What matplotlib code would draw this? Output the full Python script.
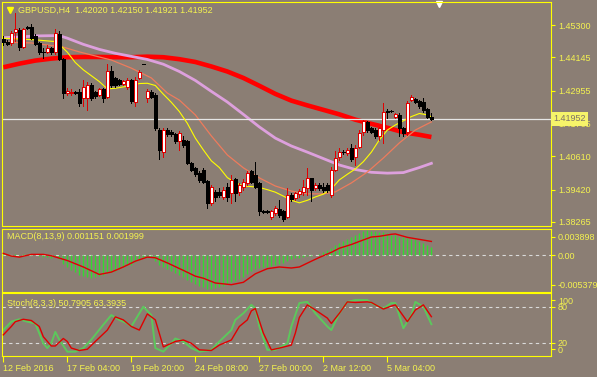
import numpy as np
import matplotlib
matplotlib.use("Agg")
import matplotlib.pyplot as plt
from matplotlib.transforms import blended_transform_factory

plt.rcParams["font.family"] = ["Liberation Sans", "DejaVu Sans"]

# ---- GBPUSD H4 candles (O, H, L, C) ----
opens = [1.4480, 1.4471, 1.4465, 1.4504, 1.4512, 1.4453, 1.4522, 1.4524, 1.4492, 1.4465,
         1.4435, 1.4433, 1.4449, 1.4433, 1.4497, 1.4409, 1.4287, 1.4287, 1.4292, 1.4290,
         1.4268, 1.4268, 1.4316, 1.4290, 1.4280, 1.4302, 1.4274, 1.4364, 1.4340, 1.4332,
         1.4318, 1.4310, 1.4332, 1.4254, 1.4342, 1.4391, 1.4268, 1.4292, 1.4280, 1.4155,
         1.4078, 1.4155, 1.4149, 1.4140, 1.4114, 1.4120, 1.4114, 1.4036, 1.4019, 1.4001,
         1.4013, 1.3973, 1.3894, 1.3935, 1.3935, 1.3917, 1.3953, 1.3929, 1.3981, 1.3933,
         1.3953, 1.3965, 1.4007, 1.3995, 1.3965, 1.3866, 1.3865, 1.3846, 1.3858, 1.3873,
         1.3864, 1.3846, 1.3923, 1.3911, 1.3926, 1.3935, 1.3947, 1.3983, 1.3947, 1.3957,
         1.3953, 1.3957, 1.3923, 1.4013, 1.4057, 1.4078, 1.4072, 1.4090, 1.4057, 1.4096,
         1.4147, 1.4185, 1.4161, 1.4155, 1.4135, 1.4155, 1.4223, 1.4224, 1.4203, 1.4209,
         1.4161, 1.4147, 1.4262, 1.4265, 1.4257, 1.4254, 1.4230, 1.42020]
highs = [1.4489, 1.4477, 1.4509, 1.4573, 1.4518, 1.4521, 1.4527, 1.4533, 1.4497, 1.4471,
         1.4447, 1.4457, 1.4453, 1.4516, 1.4509, 1.4411, 1.4306, 1.4302, 1.4295, 1.4302,
         1.4334, 1.4328, 1.4322, 1.4295, 1.4306, 1.4306, 1.4390, 1.4385, 1.4346, 1.4337,
         1.4335, 1.4342, 1.4337, 1.4346, 1.4370, 1.4392, 1.4302, 1.4298, 1.4286, 1.4161,
         1.4161, 1.4161, 1.4155, 1.4143, 1.4152, 1.4132, 1.4120, 1.4042, 1.4024, 1.4007,
         1.4019, 1.3977, 1.3959, 1.3941, 1.3947, 1.3953, 1.3965, 1.3995, 1.3985, 1.3965,
         1.3981, 1.4009, 1.4013, 1.4042, 1.3971, 1.3870, 1.3868, 1.3870, 1.3882, 1.3906,
         1.3870, 1.3947, 1.3929, 1.3933, 1.3945, 1.3977, 1.4019, 1.3985, 1.3965, 1.3965,
         1.3965, 1.3965, 1.4024, 1.4080, 1.4090, 1.4084, 1.4090, 1.4104, 1.4100, 1.4155,
         1.4191, 1.4188, 1.4167, 1.4161, 1.4167, 1.4251, 1.4230, 1.4226, 1.4215, 1.4215,
         1.4167, 1.4257, 1.4280, 1.4268, 1.4262, 1.4271, 1.4233, 1.42150]
lows = [1.4459, 1.4457, 1.4459, 1.4473, 1.4441, 1.4449, 1.4516, 1.4480, 1.4457, 1.4426,
        1.4411, 1.4429, 1.4428, 1.4426, 1.4405, 1.4271, 1.4280, 1.4280, 1.4283, 1.4239,
        1.4239, 1.4227, 1.4263, 1.4271, 1.4278, 1.4254, 1.4271, 1.4307, 1.4307, 1.4314,
        1.4314, 1.4302, 1.4251, 1.4242, 1.4337, 1.4389, 1.4254, 1.4268, 1.4155, 1.4052,
        1.4060, 1.4135, 1.4132, 1.4108, 1.4084, 1.4096, 1.4033, 1.4007, 1.3989, 1.3971,
        1.3965, 1.3876, 1.3888, 1.3902, 1.3914, 1.3909, 1.3900, 1.3894, 1.3900, 1.3923,
        1.3941, 1.3959, 1.3965, 1.3947, 1.3852, 1.3858, 1.3859, 1.3838, 1.3852, 1.3846,
        1.3830, 1.3840, 1.3900, 1.3906, 1.3917, 1.3923, 1.3923, 1.3900, 1.3941, 1.3941,
        1.3935, 1.3935, 1.3914, 1.4007, 1.4048, 1.4069, 1.4066, 1.4045, 1.4030, 1.4090,
        1.4138, 1.4149, 1.4143, 1.4128, 1.4120, 1.4108, 1.4197, 1.4221, 1.4197, 1.4132,
        1.4135, 1.4138, 1.4257, 1.4251, 1.4235, 1.4221, 1.4197, 1.41921]
closes = [1.4468, 1.4461, 1.4501, 1.4516, 1.4453, 1.4516, 1.4520, 1.4485, 1.4461, 1.4433,
          1.4433, 1.4449, 1.4433, 1.4501, 1.4409, 1.4286, 1.4295, 1.4292, 1.4286, 1.4251,
          1.4310, 1.4316, 1.4268, 1.4277, 1.4302, 1.4268, 1.4364, 1.4314, 1.4314, 1.4321,
          1.4330, 1.4334, 1.4257, 1.4334, 1.4361, 1.4390, 1.4295, 1.4274, 1.4161, 1.4084,
          1.4155, 1.4140, 1.4140, 1.4116, 1.4143, 1.4102, 1.4036, 1.4013, 1.3997, 1.3977,
          1.3971, 1.3894, 1.3953, 1.3917, 1.3923, 1.3941, 1.3917, 1.3977, 1.3929, 1.3959,
          1.3971, 1.4001, 1.3971, 1.3953, 1.3864, 1.3863, 1.3863, 1.3864, 1.3876, 1.3852,
          1.3838, 1.3923, 1.3909, 1.3929, 1.3938, 1.3953, 1.3983, 1.3941, 1.3957, 1.3947,
          1.3941, 1.3941, 1.4013, 1.4054, 1.4078, 1.4076, 1.4084, 1.4052, 1.4092, 1.4143,
          1.4188, 1.4155, 1.4149, 1.4135, 1.4161, 1.4221, 1.4221, 1.4222, 1.4211, 1.4161,
          1.4143, 1.4251, 1.4274, 1.4254, 1.4242, 1.4227, 1.4203, 1.41952]

# ---- moving averages (bar index, price) ----
ma_red_idx = [0, 4, 8, 12, 16, 20, 24, 28, 32, 36, 40, 44, 48, 52, 56, 60, 64, 68,
              72, 76, 80, 84, 88, 92, 96, 100, 104, 107]
ma_red = [1.4379, 1.4392, 1.4403, 1.4410, 1.4415, 1.4416, 1.4416, 1.4415, 1.4415, 1.4417,
          1.4415, 1.4408, 1.4398, 1.4382, 1.4364, 1.4341, 1.4313, 1.4284, 1.4260, 1.4243,
          1.4227, 1.4211, 1.4192, 1.4177, 1.4163, 1.4147, 1.4138, 1.4130]

ma_pink_idx = [0, 4, 8, 12, 14, 16, 20, 24, 28, 32, 36, 40, 44, 48, 52, 56, 60, 64, 68,
               72, 76, 80, 84, 88, 92, 96, 100, 104, 107]
ma_pink = [1.4485, 1.4487, 1.4491, 1.4492, 1.4492, 1.4483, 1.4461, 1.4443, 1.4429, 1.4418,
           1.4407, 1.4390, 1.4364, 1.4332, 1.4293, 1.4255, 1.4211, 1.4166, 1.4126, 1.4098,
           1.4076, 1.4053, 1.4030, 1.4014, 1.4004, 1.4001, 1.4003, 1.4021, 1.4036]

ma_orange_idx = [0, 7, 15, 19, 27, 32, 37, 41, 44, 48, 52, 56, 60, 64, 68, 72, 76, 80,
                 83, 87, 91, 95, 99, 103, 107]
ma_orange = [1.4469, 1.4466, 1.4451, 1.4434, 1.4405, 1.4376, 1.4341, 1.4287, 1.4262, 1.4209,
             1.4134, 1.4066, 1.4020, 1.3984, 1.3955, 1.3937, 1.3927, 1.3927, 1.3934, 1.3966,
             1.4005, 1.4055, 1.4109, 1.4155, 1.4184]

ma_yellow_idx = [0, 4, 8, 12, 13, 14, 16, 18, 20, 24, 26, 28, 32, 34, 36, 38, 40, 42, 44,
                 46, 48, 50, 52, 54, 56, 58, 60, 62, 64, 66, 68, 70, 72, 74, 76, 78, 80,
                 82, 84, 86, 88, 90, 92, 94, 96, 98, 100, 102, 104, 106, 107]
ma_yellow = [1.4483, 1.4480, 1.4477, 1.4472, 1.4471, 1.4461, 1.4433, 1.4396, 1.4370, 1.4328,
             1.4302, 1.4304, 1.4314, 1.4321, 1.4322, 1.4314, 1.4283, 1.4254, 1.4221, 1.4179,
             1.4126, 1.4084, 1.4045, 1.4021, 1.3985, 1.3967, 1.3955, 1.3953, 1.3950, 1.3942,
             1.3933, 1.3919, 1.3904, 1.3895, 1.3904, 1.3916, 1.3926, 1.3945, 1.3977, 1.3997,
             1.4016, 1.4042, 1.4076, 1.4120, 1.4155, 1.4173, 1.4188, 1.4203, 1.4214, 1.4209,
             1.4202]

# ---- MACD(8,13,9) ----
macd_hist = [0.0002, 0.0001, -0.0001, 0.0001, -0.0001, 0.0001, 0.0002, 0.0001, 0.0000, -0.0002,
             -0.0003, -0.0003, -0.0004, -0.0002, -0.0006, -0.0013, -0.0018, -0.0022, -0.0025, -0.0030,
             -0.0031, -0.0032, -0.0033, -0.0032, -0.0031, -0.0030, -0.0026, -0.0025, -0.0023, -0.0021,
             -0.0018, -0.0015, -0.0014, -0.0010, -0.0007, -0.0004, -0.0003, -0.0003, -0.0008, -0.0015,
             -0.0017, -0.0021, -0.0024, -0.0027, -0.0029, -0.0032, -0.0036, -0.0039, -0.0042, -0.0045,
             -0.0047, -0.0050, -0.0050, -0.0049, -0.0047, -0.0045, -0.0043, -0.0040, -0.0038, -0.0035,
             -0.0032, -0.0028, -0.0024, -0.0021, -0.0019, -0.0018, -0.0017, -0.0016, -0.0014, -0.0013,
             -0.0011, -0.0008, -0.0006, -0.0005, -0.0004, -0.0003, -0.0001, -0.0001, 0.0000, 0.0002,
             0.0004, 0.0008, 0.0011, 0.0015, 0.0018, 0.0021, 0.0024, 0.0026, 0.0029, 0.0032,
             0.0035, 0.0037, 0.0036, 0.0035, 0.0034, 0.0034, 0.0032, 0.0030, 0.0029, 0.0027,
             0.0026, 0.0025, 0.0024, 0.0023, 0.0021, 0.0018, 0.0015, 0.001151]
macd_sig_idx = [0, 2, 4, 7, 10, 12, 16, 20, 24, 27, 30, 33, 36, 38, 41, 45, 48, 50, 53, 57,
                60, 63, 66, 69, 72, 74, 77, 79, 82, 84, 87, 89, 92, 94, 97, 98, 101, 103, 106, 107]
macd_sig = [0.00025, -0.00015, -0.0003, 0.0001, 0.0001, -0.0001, -0.0008, -0.00175, -0.00285, -0.0025,
            -0.00175, -0.0009, -0.0003, -0.0004, -0.00115, -0.00225, -0.0031, -0.0034, -0.0041, -0.00435,
            -0.0040, -0.00275, -0.0020, -0.00175, -0.0019, -0.00175, -0.0009, -0.00035, 0.0004, 0.0010,
            0.00155, 0.0020, 0.00265, 0.00275, 0.00305, 0.0031, 0.0026, 0.0024, 0.0021, 0.001999]
macd_max, macd_min = 0.003898, -0.005379

# ---- Stochastic(8,3,3) ----
st_main_idx = [0, 2, 4, 6, 8, 10, 11, 12, 13, 14, 16, 18, 20, 22, 25, 27, 29, 31, 32, 34,
               35, 37, 38, 40, 42, 43, 45, 47, 49, 52, 54, 57, 58, 60, 62, 63, 64, 66, 68, 71,
               72, 74, 76, 78, 81, 82, 84, 86, 88, 91, 92, 95, 97, 98, 100, 102, 103, 105, 107]
st_main = [41, 55, 59, 55, 52, 19, 11, 19, 38, 25, 5, 5, 11, 25, 50, 66, 58, 52, 47, 69,
           80, 66, 11, 5, 19, 27, 22, 11, 5, 8, 22, 41, 58, 69, 83, 77, 47, 8, 8, 19,
           47, 86, 88, 69, 47, 41, 69, 88, 91, 91, 86, 77, 86, 86, 44, 66, 88, 80, 50.7905]
st_sig_idx = [0, 2, 3, 5, 7, 9, 10, 12, 13, 15, 16, 17, 19, 21, 23, 26, 28, 30, 32, 34,
              36, 38, 40, 43, 45, 47, 49, 52, 54, 57, 59, 61, 62, 63, 65, 67, 69, 72, 73, 74,
              76, 78, 81, 82, 84, 86, 88, 91, 92, 95, 97, 98, 101, 103, 105, 107]
st_sig = [33, 47, 55, 59, 57, 47, 30, 14.5, 14.5, 27, 22, 11, 7, 9, 22, 41, 63, 58, 47, 41,
          68, 58, 13, 22, 24.5, 19, 8, 7, 16, 24.5, 47, 58, 73, 77, 36, 8, 11, 16, 36, 62,
          83, 74.5, 61, 52, 69, 88, 87, 88, 87, 76, 81, 83, 55, 74.5, 83, 63.3935]

tick_idx = [0, 16, 32, 48, 64, 80, 96]
tick_labels = ["12 Feb 2016", "17 Feb 04:00", "19 Feb 20:00", "24 Feb 08:00",
               "27 Feb 00:00", "2 Mar 12:00", "5 Mar 04:00"]
price_ticks = [1.45300, 1.44145, 1.42955, 1.41765, 1.40610, 1.39420, 1.38265]

BG = "#8B7E74"
FG = "#F4F250"
BORDER = "#FFFF00"
RED = "#E00000"
GREEN = "#30DC30"
FS = 6.5
PX = 0.72  # one pixel in points at 100 dpi

W, H = 597, 377


def rect(x0, y0, x1, y1):
    return [x0 / W, 1 - y1 / H, (x1 - x0) / W, (y1 - y0) / H]


fig = plt.figure(figsize=(W / 100, H / 100), dpi=100, facecolor=BG)
ax = fig.add_axes(rect(2, 2, 551, 225.5), facecolor=BG)
axm = fig.add_axes(rect(2, 228.5, 551, 291.7), facecolor=BG, sharex=ax)
axs = fig.add_axes(rect(2, 293.3, 551, 355.7), facecolor=BG, sharex=ax)

for a in (ax, axm, axs):
    for sp in a.spines.values():
        sp.set_color(BORDER)
        sp.set_linewidth(0.8)
    a.yaxis.tick_right()
    a.tick_params(axis="y", colors=BORDER, labelcolor=FG, labelsize=FS,
                  direction="out", length=3, width=0.8, pad=2)
    a.tick_params(axis="x", bottom=False, labelbottom=False)

# ---- main price panel ----
o = np.array(opens)
h = np.array(highs)
l = np.array(lows)
c = np.array(closes)
x = np.arange(len(o))
up = c >= o
dn = ~up

ax.plot(ma_red_idx, ma_red, color="#FF0000", lw=3.3, solid_capstyle="butt", zorder=2)
ax.plot(ma_pink_idx, ma_pink, color="#DDA0DD", lw=2.0, zorder=2)
ax.plot(ma_orange_idx, ma_orange, color="#EE7B5C", lw=0.9, zorder=2)
ax.plot(ma_yellow_idx, ma_yellow, color="#FFFF00", lw=0.8, zorder=3)
ax.axhline(closes[-1], color="#E6E6E6", lw=0.9, zorder=2.5)

ax.vlines(x[up], l[up], h[up], color=RED, lw=PX, zorder=5, antialiased=False)
ax.vlines(x[dn], l[dn], h[dn], color="black", lw=PX, zorder=5, antialiased=False)
body_lo = np.minimum(o, c)
body_h = np.abs(c - o)
ax.bar(x[up], body_h[up], bottom=body_lo[up], width=0.6, color="white",
       edgecolor=RED, linewidth=PX, zorder=6, antialiased=False)
ax.bar(x[dn], body_h[dn], bottom=body_lo[dn], width=0.6, color="black",
       edgecolor="black", linewidth=PX, zorder=6, antialiased=False)

ax.set_xlim(-0.325, 136.9)
ax.set_ylim(1.38140, 1.46122)
ax.set_yticks(price_ticks)
ax.set_yticklabels([f"{p:.5f}" for p in price_ticks])

bt = blended_transform_factory(ax.transAxes, ax.transData)
ax.text(1.004, closes[-1], f"{closes[-1]:.5f}", transform=bt, ha="left", va="center",
        fontsize=FS, color="#7E7268", zorder=10,
        bbox=dict(boxstyle="square,pad=0.25", facecolor="#F6F46A", edgecolor="none"))

ax.plot([0.0146], [0.962], marker="v", color=BORDER, markersize=4.5,
        transform=ax.transAxes, clip_on=False)
ax.text(0.029, 0.962, f"GBPUSD,H4  {opens[-1]:.5f} {highs[-1]:.5f} {lows[-1]:.5f} {closes[-1]:.5f}",
        transform=ax.transAxes, ha="left", va="center", fontsize=FS, color=FG)
ax.plot([0.796], [0.99], marker="v", color="white", markersize=5,
        transform=ax.transAxes, clip_on=False)

# ---- MACD panel ----
axm.vlines(x, 0, macd_hist, color=GREEN, lw=1.0, zorder=2)
axm.axhline(0, color="#DADADA", lw=0.8, ls=(0, (3, 3)), zorder=1)
axm.plot(macd_sig_idx, macd_sig, color=RED, lw=1.0, zorder=3)
axm.set_ylim(macd_min, macd_max)
span = macd_max - macd_min
axm.set_yticks([macd_max - span * 8 / 63.2, 0, macd_min + span * 6.7 / 63.2])
axm.set_yticklabels([f"{macd_max:.6f}", "0.00", f"{macd_min:.6f}"])
axm.text(0.009, 0.875, f"MACD(8,13,9) {macd_hist[-1]:.6f} {macd_sig[-1]:.6f}",
         transform=axm.transAxes, ha="left", va="center", fontsize=FS, color=FG)

# ---- Stochastic panel ----
axs.axhline(80, color="#DADADA", lw=0.8, ls=(0, (3, 3)), zorder=1)
axs.axhline(20, color="#DADADA", lw=0.8, ls=(0, (3, 3)), zorder=1)
axs.plot(st_main_idx, st_main, color="#5CC85C", lw=1.4, zorder=2)
axs.plot(st_sig_idx, st_sig, color=RED, lw=1.0, zorder=3)
axs.set_ylim(-1.7, 102.3)
axs.set_yticks([91, 80, 20, 9])
axs.set_yticklabels(["100", "80", "20", "0"])
axs.text(0.009, 0.84, f"Stoch(8,3,3) {st_main[-1]:.4f} {st_sig[-1]:.4f}",
         transform=axs.transAxes, ha="left", va="center", fontsize=FS, color=FG)

axs.set_xticks(tick_idx)
axs.set_xticklabels(tick_labels)
axs.tick_params(axis="x", bottom=True, labelbottom=True, colors=BORDER, labelcolor=FG,
                labelsize=FS, direction="out", length=4, width=0.8, pad=2)
for lab in axs.get_xticklabels():
    lab.set_horizontalalignment("left")

fig.savefig("out.png", dpi=100, facecolor=BG)
